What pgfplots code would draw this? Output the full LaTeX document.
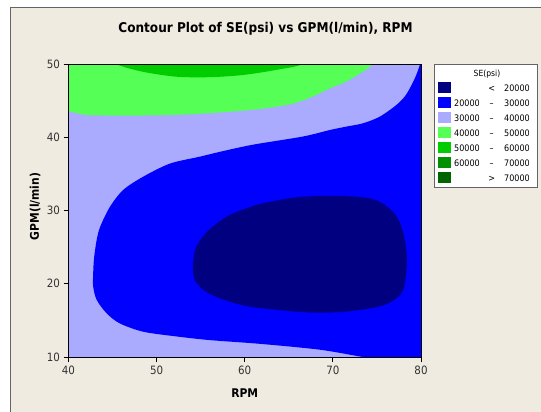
\documentclass[border=0pt]{standalone}
\usepackage{fontspec}
\setmainfont{DejaVu Sans Condensed}
\usepackage{pgfplots}
\pgfplotsset{compat=1.18}

% contour band colours
\definecolor{seNavy}{RGB}{0,0,128}
\definecolor{seBlue}{RGB}{0,0,255}
\definecolor{seLav}{RGB}{170,170,255}
\definecolor{seLGreen}{RGB}{85,255,85}
\definecolor{seGreen}{RGB}{0,204,0}
\definecolor{seDGreen}{RGB}{0,145,0}
\definecolor{seXGreen}{RGB}{0,100,0}
\definecolor{panel}{RGB}{239,235,224}
\definecolor{frameGray}{RGB}{100,100,100}

\begin{document}
\begin{tikzpicture}
\useasboundingbox (0,0) rectangle (541bp,-412bp);
\fill[white] (0,0) rectangle (541bp,-412bp);
\fill[panel] (10bp,-7bp) rectangle (541bp,-412bp);
\draw[frameGray, line width=0.8bp] (10bp,-412bp) -- (10bp,-7bp) -- (541bp,-7bp);

\begin{axis}[
  at={(68.5bp,-357bp)}, anchor=south west,
  scale only axis, width=352.5bp, height=293bp,
  xmin=40, xmax=80, ymin=10, ymax=50,
  xtick={40,50,...,80}, ytick={10,20,...,50},
  tick align=outside, tick pos=left, major tick length=5bp,
  axis on top,
  axis background/.style={fill=seLav},
  axis line style={black, line width=0.8bp},
  every tick/.style={black, line width=0.8bp},
  tick label style={font=\fontsize{11.5}{12}\selectfont, text=black!80},
  /pgf/number format/assume math mode=true,
  title={\bfseries Contour Plot of SE(psi) vs GPM(l/min), RPM},
  title style={at={(axis description cs:0.5589,1.0887)}, anchor=base,
    font=\fontsize{13.5}{15}\selectfont},
  xlabel={\bfseries RPM}, ylabel={\bfseries GPM(l/min)},
  every axis x label/.style={at={(axis description cs:0.5,-0.1365)},
    anchor=base, font=\fontsize{12}{13}\selectfont},
  every axis y label/.style={at={(axis description cs:-0.0837,0.5137)},
    rotate=90, anchor=base, font=\fontsize{12}{13}\selectfont},
]
% 20000 - 30000 band
\addplot[draw=none, fill=seBlue, smooth, tension=0.5] coordinates {
 (80.3,52) (79.9,50) (79.3,48.05) (78.3,45.8) (77.2,44.4) (75.3,42.8)
 (73.4,41.9) (71.5,41.45) (69.7,41.0) (66.6,40.1) (61,39.0) (57.5,38.1)
 (54.9,37.35) (51.5,36.4) (48.45,34.6) (46.2,32.8) (44.7,30.5) (43.6,27.8)
 (43.2,26.0) (42.9,23.5) (42.8,21.4) (42.8,19.6) (43.2,17.8) (44.3,16.0)
 (45.8,14.6) (48.5,13.45) (52.3,12.8) (56.1,12.3) (61.7,11.8) (68.5,11.0)
 (73.4,10.0) (77,9.3) (90,8) (90,56) (81,56)
};
% below 20000
\addplot[draw=none, fill=seNavy, smooth, tension=0.5] coordinates {
 (54.1,22.3) (54.4,24.8) (55.5,26.8) (56.9,28.3) (58.3,29.4) (60.2,30.3)
 (62.1,31.0) (65.9,31.8) (69.7,32.0) (73.4,31.8) (75.3,31.2) (77.0,29.6)
 (77.9,27.3) (78.4,23.7) (78.1,19.6) (77.2,18.0) (75.3,16.9) (71.5,16.2)
 (67.8,16.05) (64.0,16.4) (60.2,16.95) (57.2,18.0) (55.3,19.15) (54.3,20.6)
 (54.1,22.3)
};
% 40000 - 50000 band
\addplot[draw=none, fill=seLGreen, smooth, tension=0.5] coordinates {
 (36,43.6) (40,43.5) (42,43.05) (46,42.95) (50,43.0) (54,43.15) (58,43.45)
 (62,43.9) (65.5,44.6) (67.8,45.6) (69.7,46.7) (71.5,47.6) (73.4,48.95)
 (74.55,50) (75.5,52) (57,60) (36,56)
};
% 50000 - 60000 band
\addplot[draw=none, fill=seGreen, smooth, tension=0.5] coordinates {
 (43,52) (45.4,50) (48.4,48.95) (52.2,48.27) (56.0,48.2) (59.8,48.5)
 (63.6,49.2) (66.6,50) (68.5,52) (56,60)
};
\end{axis}

% legend
\draw[frameGray, fill=white, line width=0.8bp] (434bp,-64bp) rectangle (537bp,-187bp);
\node[font=\fontsize{8.5}{9}\selectfont] at (487bp,-74.5bp) {SE(psi)};
\foreach \c/\a/\b/\d [count=\i] in {
  seNavy/{}/{<}/20000, seBlue/20000/{--}/30000, seLav/30000/{--}/40000,
  seLGreen/40000/{--}/50000, seGreen/50000/{--}/60000,
  seDGreen/60000/{--}/70000, seXGreen/{}/{>}/70000} {
  \pgfmathsetmacro\yc{-(87.5+15*(\i-1))}
  \fill[\c] (438bp,\yc bp+5.8bp) rectangle (451bp,\yc bp-5.8bp);
  \begin{scope}[every node/.style={font=\fontsize{9}{10}\selectfont, inner sep=0pt}]
    \node[anchor=base east] at (480bp,\yc bp-3.5bp) {\a};
    \node[anchor=base] at (491.7bp,\yc bp-3.5bp) {\b};
    \node[anchor=base east] at (530bp,\yc bp-3.5bp) {\d};
  \end{scope}
}
\end{tikzpicture}
\end{document}
